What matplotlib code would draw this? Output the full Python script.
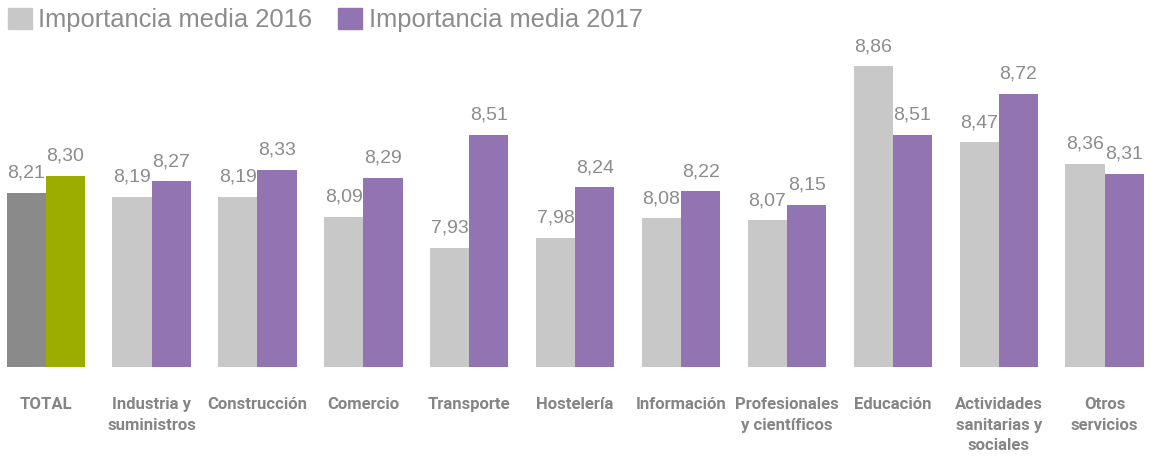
import matplotlib
matplotlib.use("Agg")
from matplotlib import pyplot as plt
from matplotlib.patches import Patch
import numpy as np

categorias = ["TOTAL", "Industria y\nsuministros", "Construcción", "Comercio",
              "Transporte", "Hostelería", "Información", "Profesionales\ny científicos",
              "Educación", "Actividades\nsanitarias y\nsociales", "Otros\nservicios"]
media_2016 = [8.21, 8.19, 8.19, 8.09, 7.93, 7.98, 8.08, 8.07, 8.86, 8.47, 8.36]
media_2017 = [8.30, 8.27, 8.33, 8.29, 8.51, 8.24, 8.22, 8.15, 8.51, 8.72, 8.31]
series = ["Importancia media 2016", "Importancia media 2017"]

GRIS = "#c8c8c8"
MORADO = "#9274b3"
GRIS_TOTAL = "#8a8a8a"
VERDE = "#9dad00"
TEXTO = "#8c8c8c"

plt.rcParams['font.family'] = ['Liberation Sans', 'DejaVu Sans']

fig = plt.figure(figsize=(11.5, 4.57), dpi=100)
ax = fig.add_axes([0, 90.3/457, 1, (366.7-40)/457])

x = np.arange(len(categorias))
w = 0.37
c16 = [GRIS_TOTAL] + [GRIS]*(len(categorias)-1)
c17 = [VERDE] + [MORADO]*(len(categorias)-1)
bottom = 7.32
b1 = ax.bar(x - w/2, np.array(media_2016) - bottom, w, bottom=bottom, color=c16)
b2 = ax.bar(x + w/2, np.array(media_2017) - bottom, w, bottom=bottom, color=c17)

# etiquetas de valor con coma decimal
for bars, vals in ((b1, media_2016), (b2, media_2017)):
    for r, v in zip(bars, vals):
        ax.annotate(f"{v:.2f}".replace(".", ","),
                    (r.get_x() + r.get_width()/2, v),
                    xytext=(0, 8), textcoords="offset points",
                    ha="center", va="bottom", fontsize=14, color=TEXTO)

ax.set_xlim(-0.4315, 10.428)
ax.set_ylim(bottom, 8.995)
ax.set_xticks(x)
ax.set_xticklabels(categorias, fontsize=12, fontweight="bold", color="#858585",
                   family=['Liberation Sans Narrow', 'Roboto', 'DejaVu Sans'],
                   linespacing=1.45)
ax.tick_params(axis="x", length=0, pad=22)
ax.set_yticks([])
for s in ax.spines.values():
    s.set_visible(False)

handles = [Patch(color=GRIS), Patch(color=MORADO)]
leg = fig.legend(handles, series, loc="upper left", bbox_to_anchor=(0.0, 1.0),
                 ncol=2, frameon=False, fontsize=18.4, handlelength=0.95,
                 handleheight=0.9, handletextpad=0.25, columnspacing=1.0,
                 borderaxespad=0.1, borderpad=0.2)
for t in leg.get_texts():
    t.set_color(TEXTO)

fig.savefig("out.png", dpi=100)
